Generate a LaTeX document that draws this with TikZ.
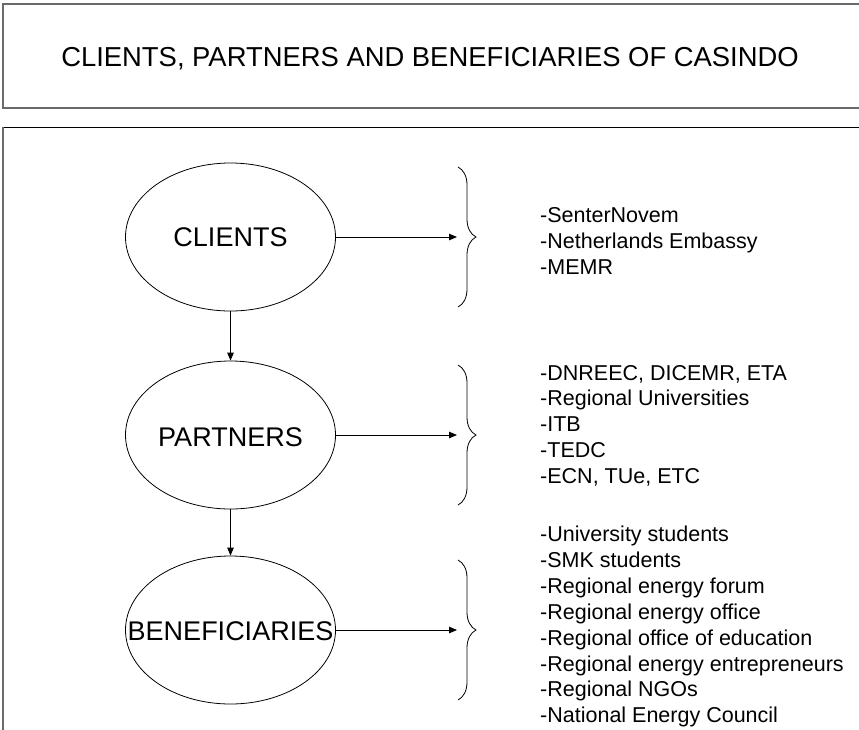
\documentclass[tikz,border=0pt]{standalone}
\usepackage{fontspec}
\setmainfont{Liberation Sans}
\usetikzlibrary{arrows.meta,decorations.pathreplacing,shapes.geometric}
\definecolor{framegray}{HTML}{6A6A6A}
\begin{document}
\begin{tikzpicture}[x=1pt,y=-1pt,
  oval/.style={draw,ellipse,line width=0.8pt,minimum width=210pt,minimum height=148pt,inner sep=0pt},
  biglabel/.style={font=\fontsize{27}{32}\selectfont,inner sep=0pt,anchor=base},
  titlestyle/.style={font=\fontsize{27.4}{32}\selectfont,inner sep=0pt,anchor=base},
  item/.style={font=\fontsize{21.5}{25.8}\selectfont,inner sep=0pt,anchor=base west},
  conn/.style={line width=0.9pt,-{Triangle[length=8pt,width=6.5pt]}},
  bracestyle/.style={decorate,decoration={brace,amplitude=18pt},line width=0.8pt},
]
\useasboundingbox (0,0) rectangle (859,729);
\begin{scope}
\clip (0,0) rectangle (859,729);
% frames
\draw[framegray,line width=1.4pt] (3,4) rectangle (880,108);
\draw[black,line width=0.9pt] (3,127) -- (880,127);
\draw[framegray,line width=1.4pt] (3,127) -- (3,740);
\end{scope}

\node[titlestyle] (title) at (430,66.7) {CLIENTS, PARTNERS AND BENEFICIARIES OF CASINDO};

% ellipses
\node[oval] (clients) at (230.5,237) {};
\node[oval] (partners) at (230.5,435) {};
\node[oval] (benef) at (230.5,630) {};
\node[biglabel] (tclients) at (230.5,246) {CLIENTS};
\node[biglabel] (tpartners) at (230.5,446.7) {PARTNERS};
\node[biglabel] (tbenef) at (230.5,640) {BENEFICIARIES};

% vertical connectors
\draw[conn] (clients.south) -- (partners.north);
\draw[conn] (partners.south) -- (benef.north);

% braces and horizontal connectors
\coordinate (bc) at (457,237);
\coordinate (bp) at (457,435);
\coordinate (bb) at (457,630);
\draw[conn] (clients.east) -- (bc);
\draw[conn] (partners.east) -- (bp);
\draw[conn] (benef.east) -- (bb);
\draw[bracestyle] (458,167) -- (458,307);
\draw[bracestyle] (458,365) -- (458,505);
\draw[bracestyle] (458,560) -- (458,700);

% lists
\foreach \t [count=\i] in {-SenterNovem,-Netherlands Embassy,-MEMR}
  \node[item,name=c\i] at (540,{222.7+(\i-1)*25.8}) {\t};
\foreach \t [count=\i] in {{-DNREEC, DICEMR, ETA},-Regional Universities,-ITB,-TEDC,{-ECN, TUe, ETC}}
  \node[item,name=p\i] at (540,{380+(\i-1)*25.8}) {\t};
\foreach \t [count=\i] in {-University students,-SMK students,-Regional energy forum,-Regional energy office,-Regional office of education,-Regional energy entrepreneurs,-Regional NGOs,-National Energy Council}
  \node[item,name=b\i] at (540,{541.7+(\i-1)*25.86}) {\t};
\end{tikzpicture}
\end{document}
